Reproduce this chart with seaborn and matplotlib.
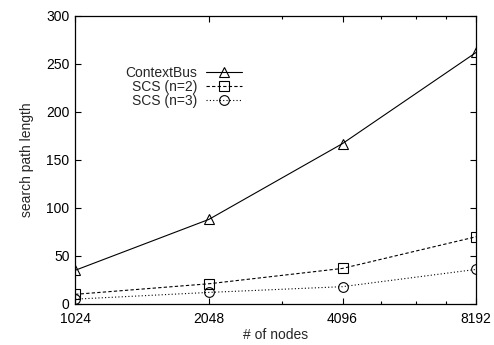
import matplotlib
matplotlib.use("Agg")
import matplotlib.pyplot as plt
import matplotlib.ticker as mticker
import seaborn as sns

nodes = [1024, 2048, 4096, 8192]
context_bus = [35, 88, 167, 262]
scs_n2 = [10, 21, 37, 70]
scs_n3 = [5, 12, 18, 36]
x_tick_labels = ["1024", "2048", "4096", "8192"]
y_ticks = [0, 50, 100, 150, 200, 250, 300]

sns.set_style("ticks")
plt.rcParams["font.family"] = ["Liberation Sans", "DejaVu Sans"]
FS = 10
plt.rcParams["font.size"] = FS

fig = plt.figure(figsize=(4.94, 3.45), dpi=100)
ax = fig.add_axes([0.152, 0.119, 0.812, 0.835])

common = dict(color="black", linewidth=0.8, markersize=7, markerfacecolor="none",
              markeredgecolor="black", markeredgewidth=0.8, ax=ax)
sns.lineplot(x=nodes, y=context_bus, marker="^", linestyle="-", label="ContextBus", **common)
sns.lineplot(x=nodes, y=scs_n2, marker="s", linestyle=(0, (3, 2)), label="SCS (n=2)", **common)
sns.lineplot(x=nodes, y=scs_n3, marker="o", linestyle=(0, (1, 2)), label="SCS (n=3)", **common)

ax.set_xscale("log", base=2)
ax.set_xlim(1024, 8192)
ax.set_ylim(0, 300)
ax.xaxis.set_major_locator(mticker.FixedLocator(nodes))
ax.xaxis.set_major_formatter(mticker.FixedFormatter(x_tick_labels))
ax.xaxis.set_minor_locator(mticker.FixedLocator([3000, 5000, 6000, 7000]))
ax.xaxis.set_minor_formatter(mticker.NullFormatter())
ax.set_yticks(y_ticks)

ax.tick_params(which="both", direction="in", top=True, right=True, colors="black",
               labelsize=FS, width=0.8)
ax.tick_params(which="major", length=4)
ax.tick_params(which="minor", length=2.5)
ax.tick_params(axis="x", which="major", pad=6)
ax.tick_params(axis="y", which="major", pad=4)
for s in ax.spines.values():
    s.set_visible(True)
    s.set_linewidth(0.9)
    s.set_color("black")

ax.set_xlabel("# of nodes", fontsize=FS, labelpad=1)
ax.set_ylabel("search path length", fontsize=FS, labelpad=9)

leg = ax.legend(loc="upper right", bbox_to_anchor=(0.416, 0.826), frameon=False,
                markerfirst=False, handlelength=2.6, handletextpad=0.6,
                labelspacing=0.0, fontsize=FS, borderaxespad=0, borderpad=0)
for col in leg._legend_box._children[-1]._children:
    col.align = "right"

fig.savefig("out.png", dpi=100)
